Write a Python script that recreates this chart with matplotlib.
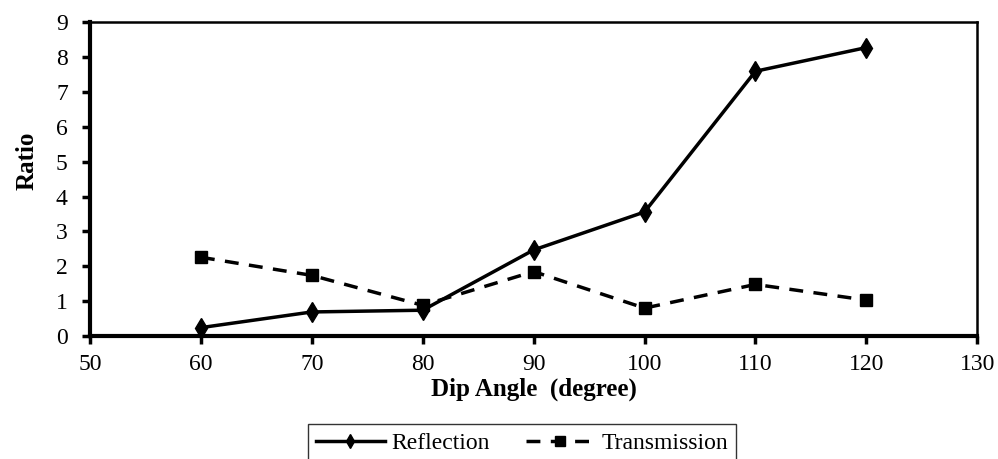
import matplotlib.pyplot as plt

dip_angle = [60, 70, 80, 90, 100, 110, 120]
reflection = [0.24, 0.69, 0.74, 2.47, 3.56, 7.6, 8.28]
transmission = [2.26, 1.74, 0.88, 1.85, 0.8, 1.48, 1.03]

plt.rcParams['font.family'] = ['Liberation Serif', 'DejaVu Serif']

fig = plt.figure(figsize=(9.98, 4.59), dpi=100)
ax = fig.add_axes([0.0902, 0.268, 0.889, 0.683])

ax.plot(dip_angle, reflection, color='black', lw=2.5, marker='d', ms=10,
        label='Reflection')
ax.plot(dip_angle, transmission, color='black', lw=2.5, ls=(0, (4, 3)),
        marker='s', ms=9, label='Transmission')

ax.set_xlim(50, 130)
ax.set_ylim(0, 9)
ax.set_xticks(range(50, 131, 10))
ax.set_yticks(range(0, 10))
ax.tick_params(direction='out', length=6, width=2.5, labelsize=17)
ax.tick_params(axis='y', pad=10)
ax.tick_params(axis='x', pad=7)
for side in ['left', 'bottom']:
    ax.spines[side].set_linewidth(3)
for side in ['top', 'right']:
    ax.spines[side].set_linewidth(1.8)

ax.set_xlabel('Dip Angle  (degree)', fontsize=18, fontweight='bold', labelpad=1.5)
ax.set_ylabel('Ratio', fontsize=18, fontweight='bold')
ax.yaxis.set_label_coords(-0.058, 0.56)

leg = fig.legend(loc='upper center', bbox_to_anchor=(0.523, 0.0763), ncol=2,
                 fontsize=17, frameon=True, fancybox=False, edgecolor='black',
                 handlelength=2.9, handletextpad=0.3, columnspacing=1.5,
                 borderpad=0.35, borderaxespad=0, markerscale=0.75)
leg.get_frame().set_linewidth(1.0)

fig.savefig('out.png', dpi=100)
